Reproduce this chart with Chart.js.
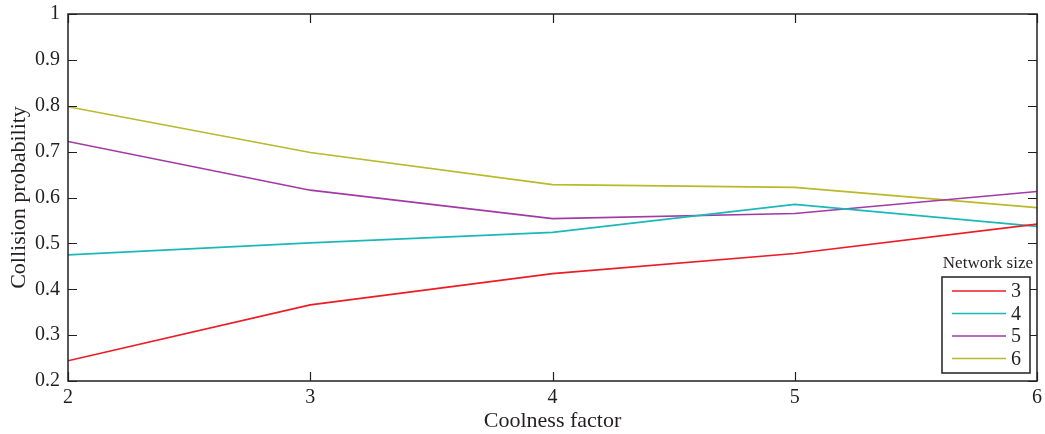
<!DOCTYPE html>
<html>
<head>
<meta charset="utf-8">
<script src="https://cdn.jsdelivr.net/npm/chart.js@4/dist/chart.umd.min.js"></script>
<style>
  html, body { margin: 0; padding: 0; background: #fff; }
  #wrap { width: 1045px; height: 434px; }
</style>
</head>
<body>
<div id="wrap"><canvas id="chart" width="1045" height="434"></canvas></div>
<script>
// coolness factor on the x axis
const coolness = [2, 3, 4, 5, 6];
const yTicks = [0.2, 0.3, 0.4, 0.5, 0.6, 0.7, 0.8, 0.9, 1];

// collision probability per network size
const size3 = [0.244, 0.366, 0.434, 0.478, 0.542];
const size4 = [0.475, 0.501, 0.524, 0.585, 0.537];
const size5 = [0.722, 0.616, 0.554, 0.565, 0.613];
const size6 = [0.798, 0.698, 0.628, 0.622, 0.578];

const seriesNames = ['3', '4', '5', '6'];
const seriesColors = ['#ec1c24', '#1cb8b8', '#a23aa6', '#b9b92b'];
const seriesValues = [size3, size4, size5, size6];

const FONT = '"Liberation Serif", "DejaVu Serif", serif';
const INK = '#231f20';

// frame + inward ticks on all four sides, like the original plot
const framePlugin = {
    id: 'frame',
    afterDatasetsDraw(chart) {
        const { ctx, chartArea: a, scales } = chart;
        const tick = 9;
        ctx.save();
        ctx.strokeStyle = INK;
        ctx.lineWidth = 1.5;
        ctx.strokeRect(a.left, a.top, a.right - a.left, a.bottom - a.top);
        ctx.lineWidth = 1.2;
        ctx.beginPath();
        coolness.forEach(v => {
            const x = Math.round(scales.x.getPixelForValue(v)) + 0.5;
            ctx.moveTo(x, a.bottom); ctx.lineTo(x, a.bottom - tick);
            ctx.moveTo(x, a.top); ctx.lineTo(x, a.top + tick);
        });
        yTicks.forEach(v => {
            const y = Math.round(scales.y.getPixelForValue(v)) + 0.5;
            ctx.moveTo(a.left, y); ctx.lineTo(a.left + tick, y);
            ctx.moveTo(a.right, y); ctx.lineTo(a.right - tick, y);
        });
        ctx.stroke();
        ctx.restore();
    }
};

// boxed legend in the bottom-right corner with a title above it
const legendPlugin = {
    id: 'boxLegend',
    afterDraw(chart) {
        const { ctx, chartArea: a } = chart;
        const ds = chart.data.datasets;
        const boxR = a.right - 7, boxB = a.bottom - 8;
        const boxW = 88, rowH = 22.5;
        const boxH = ds.length * rowH + 6;
        const boxL = boxR - boxW, boxT = boxB - boxH;
        ctx.save();
        ctx.fillStyle = '#fff';
        ctx.fillRect(boxL, boxT, boxW, boxH);
        ctx.strokeStyle = INK;
        ctx.lineWidth = 1.5;
        ctx.strokeRect(boxL, boxT, boxW, boxH);

        ctx.font = '17px ' + FONT;
        ctx.fillStyle = INK;
        ctx.textAlign = 'right';
        ctx.textBaseline = 'alphabetic';
        ctx.fillText('Network size', boxR + 3, boxT - 9);

        ctx.font = '20px ' + FONT;
        ctx.textAlign = 'left';
        ctx.textBaseline = 'middle';
        ds.forEach((d, i) => {
            const y = boxT + 14 + i * rowH;
            ctx.strokeStyle = d.borderColor;
            ctx.lineWidth = 1.6;
            ctx.beginPath();
            ctx.moveTo(boxL + 10, y);
            ctx.lineTo(boxL + 64, y);
            ctx.stroke();
            ctx.fillStyle = INK;
            ctx.fillText(d.label, boxL + 69, y + 1);
        });
        ctx.restore();
    }
};

new Chart(document.getElementById('chart'), {
    type: 'line',
    data: {
        datasets: seriesNames.map((name, i) => ({
            label: name,
            data: coolness.map((x, j) => ({ x, y: seriesValues[i][j] })),
            borderColor: seriesColors[i],
            backgroundColor: seriesColors[i],
            borderWidth: 1.6,
            pointRadius: 0,
            tension: 0,
            fill: false
        }))
    },
    options: {
        animation: false,
        responsive: false,
        layout: { padding: { top: 14, right: 8, left: 6, bottom: 0 } },
        plugins: {
            legend: { display: false },
            tooltip: { enabled: false }
        },
        scales: {
            x: {
                type: 'linear',
                min: 2,
                max: 6,
                afterBuildTicks: s => { s.ticks = coolness.map(v => ({ value: v })); },
                afterFit: s => { s.height = 53; s.paddingLeft = 0; s.paddingRight = 0; },
                grid: { display: false, drawTicks: false },
                border: { display: false },
                ticks: {
                    color: INK,
                    font: { family: FONT, size: 20 },
                    padding: 5,
                    maxRotation: 0
                },
                title: {
                    display: true,
                    text: 'Coolness factor',
                    color: INK,
                    font: { family: FONT, size: 22 },
                    padding: { top: -9, bottom: 0 }
                }
            },
            y: {
                type: 'linear',
                min: 0.2,
                max: 1,
                afterBuildTicks: s => { s.ticks = yTicks.map(v => ({ value: v })); },
                afterFit: s => { s.width = 62; s.paddingTop = 0; s.paddingBottom = 0; },
                grid: { display: false, drawTicks: false },
                border: { display: false },
                ticks: {
                    color: INK,
                    font: { family: FONT, size: 20 },
                    padding: 8,
                    callback: v => String(+v.toFixed(1))
                },
                title: {
                    display: true,
                    text: 'Collision probability',
                    color: INK,
                    font: { family: FONT, size: 22 },
                    padding: { top: 0, bottom: 0 }
                }
            }
        }
    },
    plugins: [framePlugin, legendPlugin]
});
</script>
</body>
</html>
